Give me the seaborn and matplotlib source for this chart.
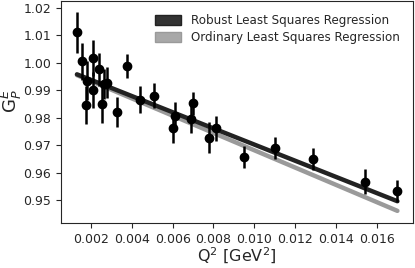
import matplotlib
matplotlib.use("Agg")
from matplotlib import pyplot as plt
from matplotlib.patches import Patch
import pandas as pd
import seaborn as sns

q2 = [0.00132, 0.00156, 0.00180, 0.00176, 0.00210, 0.00210, 0.00240, 0.00254,
      0.00264, 0.00280, 0.00327, 0.00376, 0.00440, 0.00507, 0.00600, 0.00612,
      0.00690, 0.00702, 0.00780, 0.00812, 0.00950, 0.01100, 0.01285, 0.01540,
      0.01700]
gep = [1.0110, 1.0005, 0.9935, 0.9847, 1.0016, 0.9900, 0.9976, 0.9850,
       0.9922, 0.9928, 0.9822, 0.9988, 0.9866, 0.9880, 0.9762, 0.9808,
       0.9794, 0.9852, 0.9728, 0.9762, 0.9656, 0.9690, 0.9650, 0.9568,
       0.9535]
gep_err = [0.0075, 0.0068, 0.0070, 0.0068, 0.0065, 0.0065, 0.0060, 0.0070,
           0.0055, 0.0055, 0.0055, 0.0045, 0.0050, 0.0045, 0.0055, 0.0050,
           0.0050, 0.0040, 0.0055, 0.0045, 0.0040, 0.0040, 0.0040, 0.0045,
           0.0040]

fit_q2 = [0.00132, 0.01700]
robust_fit = [0.9958, 0.9497]
ols_fit = [0.9955, 0.9462]

sns.set_style("ticks")
plt.rcParams["font.family"] = ["DejaVu Sans"]

fig = plt.figure(figsize=(4.15, 2.68), dpi=100)
ax = fig.add_axes([0.147, 0.168, 0.848, 0.829])

fits = pd.DataFrame({
    "q2": fit_q2 * 2,
    "gep": ols_fit + robust_fit,
    "kind": ["Ordinary Least Squares Regression"] * 2 + ["Robust Least Squares Regression"] * 2,
})
sns.lineplot(data=fits, x="q2", y="gep", hue="kind",
             palette={"Ordinary Least Squares Regression": "#9a9a9a",
                      "Robust Least Squares Regression": "#222222"},
             linewidth=3.2, legend=False, ax=ax)

ax.errorbar(q2, gep, yerr=gep_err, fmt="o", color="black", markersize=6,
            elinewidth=1.8, capsize=0, zorder=5)

handles = [Patch(facecolor="#333333", edgecolor="#222222"),
           Patch(facecolor="#a8a8a8", edgecolor="#9a9a9a")]
ax.legend(handles, ["Robust Least Squares Regression", "Ordinary Least Squares Regression"],
          loc="upper right", frameon=False, fontsize=8.6, handlelength=2.2,
          handleheight=0.9, borderaxespad=0.7, labelspacing=0.35)

ax.set_xlim(0.00054, 0.01776)
ax.set_ylim(0.9418, 1.0225)
ax.set_xticks([0.002, 0.004, 0.006, 0.008, 0.010, 0.012, 0.014, 0.016])
ax.set_yticks([0.95, 0.96, 0.97, 0.98, 0.99, 1.00, 1.01, 1.02])
ax.tick_params(labelsize=9)
ax.set_xlabel("Q$^2$ [GeV$^2$]", fontsize=11.5)
ax.set_ylabel("G$_P^E$", fontsize=13)
ax.xaxis.set_label_coords(0.5, -0.105)
ax.yaxis.set_label_coords(-0.105, 0.55)

fig.savefig("out.png", dpi=100)
